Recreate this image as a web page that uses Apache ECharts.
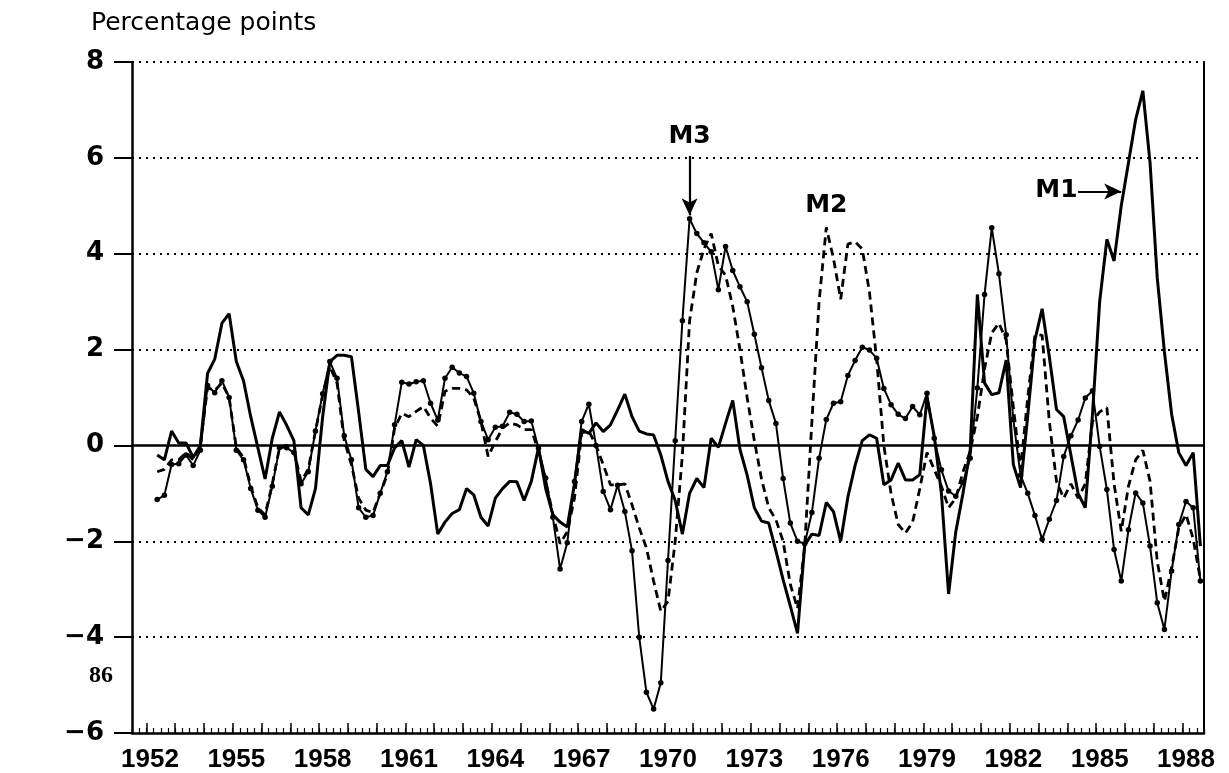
<!DOCTYPE html>
<html>
<head>
<meta charset="utf-8">
<script src="https://cdn.jsdelivr.net/npm/echarts@6/dist/echarts.min.js"></script>
<style>
html,body{margin:0;padding:0;background:#fff;}
#c{width:1229px;height:773px;}
</style>
</head>
<body>
<div id="c"></div>
<script>
// Quarterly categories 1951Q3 .. 1988Q3 (axis range); data start 1952Q2
const firstYear = 1951, firstQuarter = 3, lastYear = 1988, lastQuarter = 3;
const dataStart = '1952Q2';
const yearLabels = [1952, 1955, 1958, 1961, 1964, 1967, 1970, 1973, 1976, 1979, 1982, 1985, 1988];
const yTicks = [-6, -4, -2, 0, 2, 4, 6, 8];

// M1 (solid line), 1952Q2 .. 1988Q3
const m1 = [
  -0.2, -0.3, 0.3,
  0.05, 0.05, -0.25, 0.0,
  1.5, 1.8, 2.55, 2.75,
  1.75, 1.35, 0.6, -0.05,
  -0.7, 0.15, 0.7, 0.42,
  0.1, -1.3, -1.45, -0.9,
  0.6, 1.75, 1.88, 1.88,
  1.85, 0.7, -0.5, -0.65,
  -0.42, -0.42, -0.05, 0.1,
  -0.45, 0.12, 0.0, -0.8,
  -1.85, -1.6, -1.42, -1.34,
  -0.9, -1.03, -1.5, -1.68,
  -1.1, -0.9, -0.75, -0.76,
  -1.15, -0.75, -0.05, -0.9,
  -1.45, -1.6, -1.7, -0.8,
  0.33, 0.25, 0.47, 0.29,
  0.43, 0.74, 1.07, 0.6,
  0.3, 0.24, 0.22, -0.2,
  -0.75, -1.15, -1.85, -1.0,
  -0.69, -0.88, 0.15, -0.04,
  0.46, 0.94, -0.08, -0.62,
  -1.3, -1.58, -1.62, -2.2,
  -2.8, -3.35, -3.92, -2.08,
  -1.85, -1.88, -1.19, -1.38,
  -2.0, -1.08, -0.42, 0.1,
  0.22, 0.15, -0.82, -0.72,
  -0.37, -0.72, -0.72, -0.61,
  1.0, 0.2, -1.0, -3.1,
  -1.8, -1.0, -0.1, 3.15,
  1.3, 1.06, 1.1, 1.78,
  -0.4, -0.88, 0.62, 2.2,
  2.85, 1.85, 0.75, 0.6,
  -0.2, -1.0, -1.3, 0.65,
  3.0, 4.3, 3.85, 5.0,
  5.9, 6.8, 7.4, 5.9,
  3.5, 1.95, 0.65, -0.15,
  -0.42, -0.15, -2.1
];

// M2 (dashed line), 1952Q2 .. 1988Q3
const m2 = [
  -0.55, -0.5, -0.3,
  -0.3, -0.15, -0.3, 0.0,
  1.2, 1.15, 1.3, 1.0,
  -0.05, -0.25, -0.85, -1.3,
  -1.45, -0.8, -0.05, 0.0,
  -0.1, -0.75, -0.5, 0.3,
  1.05, 1.65, 1.3, 0.1,
  -0.4, -1.1, -1.35, -1.4,
  -1.0, -0.6, 0.36, 0.67,
  0.6, 0.71, 0.81, 0.57,
  0.4, 1.13, 1.19, 1.19,
  1.16, 0.99, 0.5, -0.23,
  0.08, 0.36, 0.47, 0.43,
  0.33, 0.33, -0.12, -0.75,
  -1.44, -2.05, -1.8, -1.1,
  0.26, 0.3, 0.0, -0.4,
  -0.82, -0.83, -0.8, -1.24,
  -1.72, -2.14, -2.83, -3.46,
  -3.25, -2.0, -0.2, 2.6,
  3.6, 4.1, 4.42, 3.75,
  3.55, 2.9, 2.0, 1.0,
  0.1, -0.7, -1.3, -1.55,
  -2.0, -2.9, -3.4, -2.1,
  0.5, 3.0, 4.55, 3.9,
  3.05, 4.2, 4.25, 4.1,
  3.2, 1.8, 0.0, -1.0,
  -1.65, -1.83, -1.6, -0.9,
  -0.15, -0.5, -0.85, -1.3,
  -1.1, -0.55, -0.12, 0.6,
  1.6, 2.35, 2.55, 2.2,
  0.8, -0.5, 1.0, 2.3,
  2.3, 0.5, -0.75, -1.1,
  -0.8, -1.1, -0.8, 0.5,
  0.7, 0.79, -0.8, -1.79,
  -0.85, -0.3, -0.1, -0.75,
  -2.42, -3.25, -2.55, -1.72,
  -1.44, -1.95, -2.8
];

// M3 (solid line with dots), 1952Q2 .. 1988Q3
const m3 = [
  -1.13, -1.04, -0.4,
  -0.38, -0.2, -0.42, -0.1,
  1.25, 1.1, 1.35, 1.0,
  -0.1, -0.3, -0.9, -1.35,
  -1.5, -0.85, -0.05, -0.05,
  -0.15, -0.8, -0.55, 0.3,
  1.08, 1.75, 1.4, 0.2,
  -0.3, -1.3, -1.5, -1.46,
  -1.0, -0.55, 0.43, 1.32,
  1.28, 1.33, 1.35, 0.88,
  0.53, 1.40, 1.63, 1.51,
  1.44, 1.09, 0.5, 0.12,
  0.38, 0.4, 0.69, 0.65,
  0.5, 0.51, -0.06, -0.68,
  -1.5, -2.58, -2.03, -0.75,
  0.5, 0.86, 0.0, -0.96,
  -1.34, -0.83, -1.38, -2.2,
  -4.0, -5.15, -5.5, -4.95,
  -2.4, 0.1, 2.6, 4.73,
  4.42, 4.23, 4.04, 3.25,
  4.15, 3.65, 3.31, 3.0,
  2.32, 1.62, 0.94, 0.46,
  -0.69, -1.62, -2.0, -2.05,
  -1.4, -0.27, 0.54, 0.88,
  0.91, 1.46, 1.77, 2.05,
  1.99, 1.82, 1.19, 0.85,
  0.65, 0.56, 0.81, 0.64,
  1.09, 0.15, -0.51, -0.95,
  -1.06, -0.77, -0.27, 1.2,
  3.15, 4.54, 3.58, 2.31,
  0.54, -0.62, -1.0, -1.46,
  -1.96, -1.54, -1.15, -0.23,
  0.2, 0.53, 0.99, 1.14,
  -0.02, -0.92, -2.17, -2.83,
  -1.76, -0.99, -1.2, -2.1,
  -3.28, -3.84, -2.62, -1.65,
  -1.17, -1.3, -2.83
];

// Build category labels
const categories = [];
for (let y = firstYear, q = firstQuarter; y < lastYear || (y === lastYear && q <= lastQuarter); ) {
  categories.push(y + 'Q' + q);
  q++; if (q > 4) { q = 1; y++; }
}
const lead = categories.indexOf(dataStart);
function pad(arr) { return new Array(lead).fill(null).concat(arr); }

const FONT = 'DejaVu Sans';
const chart = echarts.init(document.getElementById('c'), null, {renderer: 'canvas'});

const dotted = {color: '#000', width: 2, type: [2, 5]};
const gridLines = [2, 4, 6, 8, -2, -4].map(v => ({yAxis: v, lineStyle: dotted}));
gridLines.push({yAxis: 0, lineStyle: {color: '#000', width: 2.5, type: 'solid'}});

const option = {
  backgroundColor: '#fff',
  animation: false,
  title: [{
    text: 'Percentage points', left: 86, top: 6,
    textStyle: {fontFamily: FONT, fontSize: 25, fontWeight: 'normal', color: '#000'}
  }, {
    text: '86', left: 84, top: 659,
    textStyle: {fontFamily: 'Liberation Serif', fontSize: 24, fontWeight: 'bold', color: '#000'}
  }],
  grid: {left: 132, right: 25, top: 62, bottom: 40, containLabel: false},
  xAxis: [{
    type: 'category', data: categories, boundaryGap: true, position: 'bottom',
    axisLine: {onZero: false, lineStyle: {color: '#000', width: 2.5}},
    axisTick: {show: true, inside: true, interval: 0, length: 5, lineStyle: {color: '#000', width: 1.2}},
    axisLabel: {
      interval: function (i, v) {
        const y = +v.slice(0, 4);
        return v.endsWith('Q1') && yearLabels.indexOf(y) >= 0;
      },
      formatter: v => v.slice(0, 4),
      margin: 14, color: '#000',
      fontFamily: 'Liberation Sans', fontWeight: 'bold', fontSize: 26
    },
    splitLine: {show: false}
  }, {
    type: 'category', data: categories, boundaryGap: true, position: 'bottom',
    axisLine: {show: false, onZero: false},
    axisTick: {show: true, inside: true, length: 10, lineStyle: {color: '#000', width: 1.5},
      interval: function (i, v) { return v.endsWith('Q1'); }},
    axisLabel: {show: false},
    splitLine: {show: false}
  }],
  yAxis: [{
    type: 'value', min: -6, max: 8, interval: 2,
    axisLine: {show: true, onZero: false, lineStyle: {color: '#000', width: 2.5}},
    axisTick: {show: true, length: 18, lineStyle: {color: '#000', width: 2}},
    axisLabel: {
      margin: 28, color: '#000', fontFamily: FONT, fontWeight: 'bold', fontSize: 26,
      formatter: v => (v < 0 ? '\u2212' + Math.abs(v) : String(v))
    },
    splitLine: {show: false}
  }, {
    type: 'value', min: -6, max: 8, interval: 2, position: 'right',
    axisLine: {show: true, onZero: false, lineStyle: {color: '#000', width: 2}},
    axisTick: {show: false}, axisLabel: {show: false}, splitLine: {show: false}
  }],
  series: [
    {
      name: 'grid', type: 'line', data: [], z: 1, silent: true,
      markLine: {silent: true, symbol: 'none', label: {show: false}, data: gridLines, animation: false}
    },
    {
      name: 'M2', type: 'line', data: pad(m2), z: 2, showSymbol: false, symbol: 'none',
      lineStyle: {color: '#000', width: 2.8, type: [8, 5]}, connectNulls: false
    },
    {
      name: 'M3', type: 'line', data: pad(m3), z: 3, symbol: 'circle', symbolSize: 5.5,
      showSymbol: true, showAllSymbol: true,
      itemStyle: {color: '#000'}, lineStyle: {color: '#000', width: 2},
      markPoint: {
        symbol: 'rect', symbolSize: 1, itemStyle: {color: 'rgba(0,0,0,0)'},
        data: [
          {coord: ['1970Q4', 6.45], label: {show: true, position: 'inside', formatter: 'M3',
            backgroundColor: '#fff', padding: [2, 12, 12, 12],
            fontFamily: FONT, fontWeight: 'bold', fontSize: 25, color: '#000'}},
          {coord: ['1975Q3', 5.0], label: {show: true, position: 'inside', formatter: 'M2',
            fontFamily: FONT, fontWeight: 'bold', fontSize: 25, color: '#000'}},
          {coord: ['1983Q3', 5.31], label: {show: true, position: 'inside', formatter: 'M1',
            fontFamily: FONT, fontWeight: 'bold', fontSize: 25, color: '#000'}}
        ]
      }
    },
    {
      name: 'M1', type: 'line', data: pad(m1), z: 4, showSymbol: false, symbol: 'none',
      lineStyle: {color: '#000', width: 3},
      markLine: {
        silent: true, symbol: ['none', 'arrow'], symbolSize: [12, 17], label: {show: false},
        lineStyle: {color: '#000', width: 2.2, type: 'solid'},
        data: [
          [{coord: ['1970Q4', 6.05]}, {coord: ['1970Q4', 4.8]}],
          [{coord: ['1984Q2', 5.3]}, {coord: ['1985Q4', 5.3]}]
        ]
      }
    }
  ]
};
chart.setOption(option);
</script>
</body>
</html>
